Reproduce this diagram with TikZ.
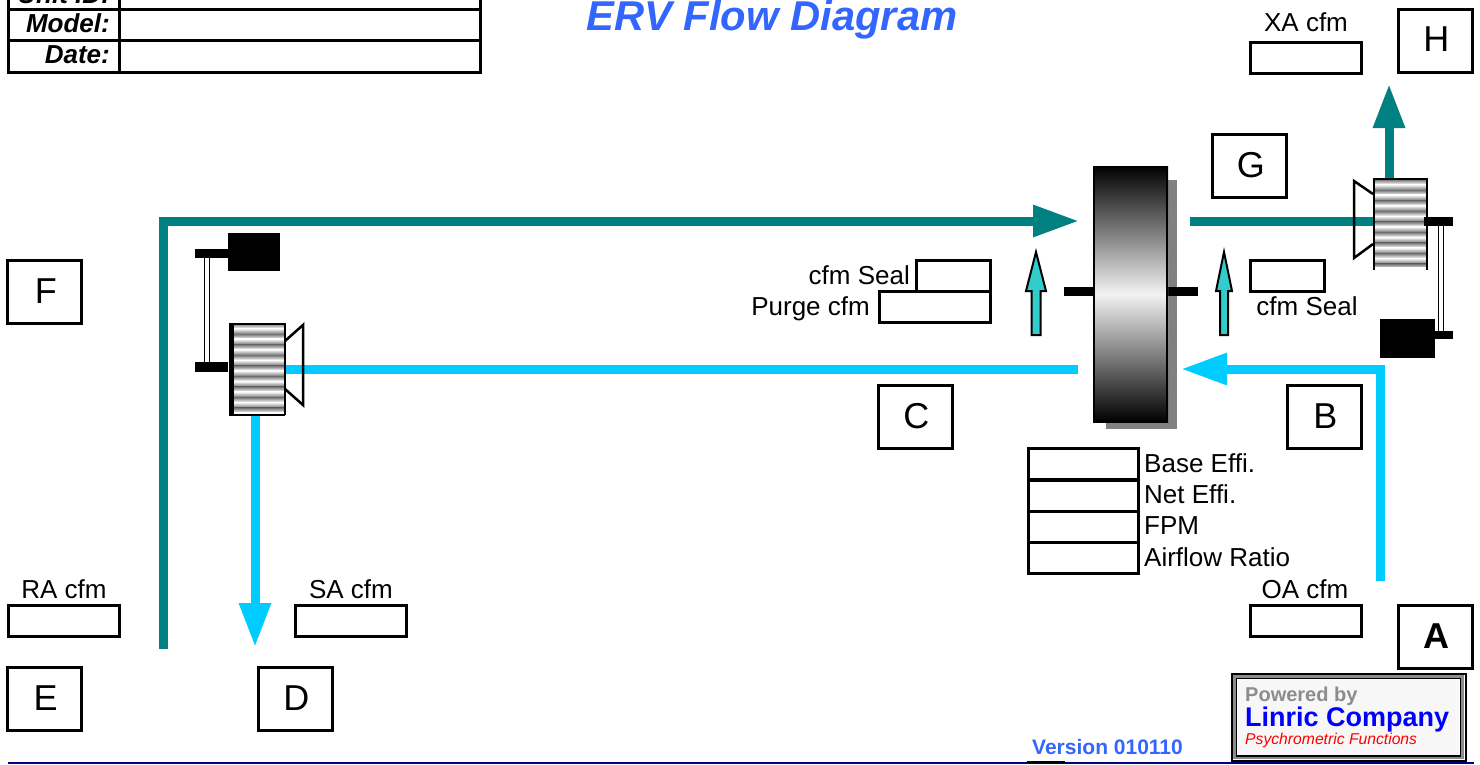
\documentclass[tikz,border=0pt]{standalone}
\usepackage{fontspec}
\setmainfont{Liberation Sans}
\usepackage{tikz}
\usetikzlibrary{arrows.meta}
\definecolor{exhaustteal}{HTML}{008080}
\definecolor{supplycyan}{HTML}{00CCFF}
\definecolor{sealcyan}{HTML}{33CCCC}
\definecolor{titleblue}{HTML}{3366FF}
\definecolor{basenavy}{HTML}{000080}
\tikzset{
  lettercell/.style={draw,line width=3pt,inner sep=0pt,minimum width=74pt,minimum height=63pt,font=\fontsize{36}{36}\selectfont,execute at begin node=\kern 2.5pt},
  fieldcell/.style={draw,line width=3pt,inner sep=0pt,minimum height=31pt},
  fieldlabel/.style={inner sep=0pt,font=\fontsize{26}{26}\selectfont},
  headlabel/.style={inner sep=0pt,anchor=base east,font=\fontsize{26}{26}\selectfont\bfseries\itshape},
  tealflow/.style={draw=exhaustteal,line width=9pt},
  cyanflow/.style={draw=supplycyan,line width=9pt},
  flowtip/.style={-{Triangle[length=#1,width=30pt]}},
}
% fan wheel stripes: #1 left, #2 right, #3 top, #4 bottom, #5 first band, #6 count
\newcommand{\fanstripes}[6]{
  \begin{scope}
  \clip (#1,#3) rectangle (#2,#4);
  \fill[white] (#1,#3) rectangle (#2,#4);
  \foreach \n in {1,...,#6}{
    \shade[top color=white,bottom color=black!55] (#1,{#5+(\n-1)*10.55}) rectangle (#2,{#5+(\n-1)*10.55+5.6});
    \shade[top color=black!55,bottom color=white] (#1,{#5+(\n-1)*10.55+5.6}) rectangle (#2,{#5+\n*10.55});
  }
  \end{scope}
}
% seal arrow: #1 centre, #2 half head, #3 half shaft
\newcommand{\sealarrow}[3]{ \draw[line width=2pt,fill=sealcyan,line join=miter] (#1,252) -- (#1+#2,291) -- (#1+#3,291) -- (#1+#3,335) -- (#1-#3,335) -- (#1-#3,291) -- (#1-#2,291) -- cycle;}
\begin{document}
\begin{tikzpicture}[x=1pt,y=-1pt]
        \useasboundingbox (0,0) rectangle (1480,764);
        \fill[white] (0,0) rectangle (1480,764);

        % header table
        \draw[line width=3pt] (8,-22) rectangle (480,72);
        \draw[line width=3pt] (119,-22) -- (119,72);
        \draw[line width=3pt] (8,9) -- (480,9);
        \draw[line width=3pt] (8,40) -- (480,40);
        \node[headlabel] (unitlabel) at (110,3) {Unit ID:};
        \node[headlabel] (modellabel) at (110,32) {Model:};
        \node[headlabel] (datelabel) at (110,63) {Date:};
        \node[inner sep=0pt,anchor=base,text=titleblue,font=\fontsize{41.7}{42}\selectfont\bfseries\itshape] (title) at (772,30) {ERV Flow Diagram};

        % wheel
        \fill[black!50] (1106,180) rectangle (1177,429);
        \draw[line width=9pt] (1064,291) -- (1198,291);
        \shade[top color=black,bottom color=black,middle color=white!95!black] (1093,166) rectangle (1168,422);
        \draw[line width=2.5pt] (1094,167) rectangle (1167,421);

        % teal flow
        \coordinate (eastart) at (163,649);
        \coordinate (eacorner) at (163,221);
        \coordinate (eawheel) at (1079,221);
        \coordinate (exwheel) at (1190,221);
        \coordinate (exfan) at (1373,221);
        \coordinate (xafan) at (1389,178);
        \coordinate (xatip) at (1389,84);
        \draw[tealflow,flowtip=46pt] (eastart) -- (eacorner) -- (eawheel);
        \draw[tealflow] (exwheel) -- (exfan);
        \draw[tealflow,flowtip=44pt] (xafan) -- (xatip);

        % cyan flow
        \coordinate (oastart) at (1380,581);
        \coordinate (oacorner) at (1380,369);
        \coordinate (oawheel) at (1181,369);
        \coordinate (rawheel) at (1078,369);
        \coordinate (rafan) at (285,369);
        \coordinate (safan) at (255,415);
        \coordinate (satip) at (255,647);
        \draw[cyanflow,flowtip=46pt] (oastart) -- (oacorner) -- (oawheel);
        \draw[cyanflow] (rawheel) -- (rafan);
        \draw[cyanflow,flowtip=44pt] (safan) -- (satip);

        % seal arrows
        \sealarrow{1036}{10}{4.5}
        \sealarrow{1224}{8}{4}

        % left fan
        \fanstripes{234}{284}{324}{414}{317.85}{10}
        \fill (229,323) rectangle (234,415);
        \draw[line width=2pt] (229,323.5) -- (285,323.5) (285,323) -- (285,415) (229,414.5) -- (285,414.5);
        \draw[line width=2.5pt] (285,341) -- (303,325) -- (303,405) -- (285,389);
        % left motor
        \fill (228,233) rectangle (280,271);
        \fill (195,249) rectangle (228,258);
        \fill (195,362) rectangle (228,372);
        \draw[line width=1.5pt] (204.5,258) -- (204.5,362) (209.5,258) -- (209.5,362);

        % right fan
        \fanstripes{1374}{1427}{180}{266}{173.85}{9}
        \draw[line width=2pt] (1373,179) -- (1428,179) (1374,179) -- (1374,270) (1427,179) -- (1427,270);
        \draw[line width=2.5pt] (1373,194) -- (1354,181) -- (1354,258) -- (1373,244);
        % right motor
        \fill (1380,319) rectangle (1435,358);
        \fill (1424,217) rectangle (1453,226);
        \fill (1435,331) rectangle (1453,339);
        \draw[line width=1.5pt] (1438.5,226) -- (1438.5,331) (1443.5,226) -- (1443.5,331);

        % letters
        \node[lettercell] (G) at (1249.5,165.5) {G};
        \node[lettercell] (H) at (1435,41) {\raisebox{3pt}{H}};
        \node[lettercell] (F) at (44,291.5) {\kern 1pt F};
        \node[lettercell] (C) at (915,416.5) {C};
        \node[lettercell] (B) at (1324,416.5) {B};
        \node[lettercell,font=\fontsize{36}{36}\selectfont\bfseries] (A) at (1435,636.5) {A};
        \node[lettercell] (E) at (44,698.5) {\kern 1pt E};
        \node[lettercell] (D) at (295,698.5) {D};

        % cfm fields
        \node[fieldcell,minimum width=111pt] (xabox) at (1305.5,57.5) {};
        \node[fieldlabel] (xalabel) at (1306,22) {XA cfm};
        \node[fieldcell,minimum width=74pt] (sealrbox) at (1287,275.5) {};
        \node[fieldlabel] (sealrlabel) at (1307,306) {cfm Seal};
        \node[fieldcell,minimum width=74pt] (seallbox) at (953,275.5) {};
        \node[fieldlabel,anchor=east] (seallabel) at (910,275) {cfm Seal};
        \node[fieldcell,minimum width=111pt] (purgebox) at (934.5,307) {};
        \node[fieldlabel,anchor=east] (purgelabel) at (870,309) {Purge cfm};
        \node[fieldcell,minimum width=111pt] (rabox) at (63.5,620.5) {};
        \node[fieldlabel] (ralabel) at (64,589) {RA cfm};
        \node[fieldcell,minimum width=111pt] (sabox) at (350.5,620.5) {};
        \node[fieldlabel] (salabel) at (351,589) {SA cfm};
        \node[fieldcell,minimum width=111pt] (oabox) at (1305.5,620.5) {};
        \node[fieldlabel] (oalabel) at (1305,589) {OA cfm};

        % wheel data
        \node[fieldcell,minimum width=110pt] (basebox) at (1083,463.5) {};
        \node[fieldcell,minimum width=110pt] (netbox) at (1083,495.5) {};
        \node[fieldcell,minimum width=110pt] (fpmbox) at (1083,527) {};
        \node[fieldcell,minimum width=110pt] (ratiobox) at (1083,558) {};
        \node[fieldlabel,anchor=west] (baselabel) at (1144,463) {Base Effi.};
        \node[fieldlabel,anchor=west] (netlabel) at (1144,494) {Net Effi.};
        \node[fieldlabel,anchor=west] (fpmlabel) at (1144,526) {FPM};
        \node[fieldlabel,anchor=west] (ratiolabel) at (1144,557) {Airflow Ratio};

        % logo
        \draw[line width=2pt] (1231.5,673.5) rectangle (1465.5,761);
        \draw[black!45,line width=2.5pt] (1234.5,676.5) rectangle (1462.5,758);
        \draw[line width=1.5pt] (1236.5,678.5) rectangle (1460.5,756);
        \fill[black!3] (1238,680) rectangle (1459,755);
        \node[inner sep=0pt,anchor=base west,text=black!45,font=\fontsize{20}{20}\selectfont\bfseries] (powered) at (1245,701) {Powered by};
        \node[inner sep=0pt,anchor=base west,text=blue,font=\fontsize{27}{27}\selectfont\bfseries] (linric) at (1245,726) {Linric Company};
        \node[inner sep=0pt,anchor=base west,text=red,font=\fontsize{15.7}{16}\selectfont\itshape] (functions) at (1245,744) {Psychrometric Functions};

        % footer
        \node[inner sep=0pt,anchor=base west,text=titleblue,font=\fontsize{21}{21}\selectfont\bfseries] (version) at (1032,754) {Version 010110};
        \draw[basenavy,line width=2pt] (8,763) -- (1474,763);
        \draw[line width=2pt] (1027,761.5) -- (1065,761.5);
    \end{tikzpicture}
\end{document}
